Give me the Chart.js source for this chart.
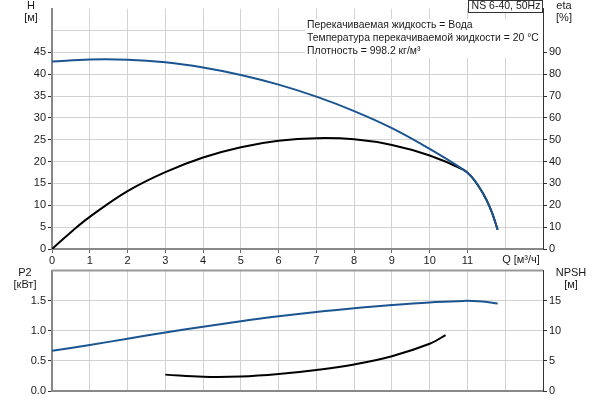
<!DOCTYPE html>
<html>
<head>
<meta charset="utf-8">
<script src="https://cdn.jsdelivr.net/npm/chart.js@4.4.1/dist/chart.umd.min.js"></script>
<style>
  body { margin: 0; background: #fff; width: 600px; height: 400px; position: relative; overflow: hidden; }
  canvas { position: absolute; left: 0; }
  #topChart { top: 0; }
  #botChart { top: 262px; }
</style>
</head>
<body>
<canvas id="topChart" width="600" height="270"></canvas>
<canvas id="botChart" width="600" height="138"></canvas>
<script>
// Q axis ticks (м³/ч)
const qTickLabels = ['0', '1', '2', '3', '4', '5', '6', '7', '8', '9', '10', '11'];

// Напор H [м]
const qH = [0, 1, 2, 3, 4, 5, 6, 7, 8, 9, 10, 10.9, 11.1, 11.3, 11.5, 11.65, 11.8];
const valH = [42.9, 43.35, 43.3, 42.7, 41.5, 39.8, 37.6, 34.85, 31.55, 27.65, 22.9, 18.1, 16.6, 14.3, 11.3, 8.3, 4.4];

// КПД eta [%]
const qEta = [0, 0.5, 1, 2, 3, 4, 5, 6, 7, 8, 9, 10, 10.9, 11.1, 11.3, 11.5, 11.65, 11.8];
const valEta = [0, 7.7, 14.7, 26.5, 35.2, 41.9, 46.6, 49.5, 50.7, 50.2, 47.6, 42.8, 36.2, 33.2, 28.6, 22.6, 16.6, 8.8];

// Мощность P2 [кВт]
const qP2 = [0, 1, 2, 3, 4, 5, 6, 7, 8, 9, 10, 10.9, 11.4, 11.8];
const valP2 = [0.668, 0.765, 0.868, 0.972, 1.068, 1.158, 1.240, 1.312, 1.374, 1.428, 1.472, 1.497, 1.485, 1.455];

// NPSH [м]
const qNpsh = [3, 4, 5, 6, 7, 8, 9, 10, 10.42];
const valNpsh = [2.72, 2.36, 2.40, 2.82, 3.50, 4.42, 5.78, 7.84, 9.28];

const hTicks = [0, 5, 10, 15, 20, 25, 30, 35, 40, 45];
const etaTicks = [0, 10, 20, 30, 40, 50, 60, 70, 80, 90];
const p2Ticks = ['0.0', '0.5', '1.0', '1.5'];
const npshTicks = [0, 5, 10, 15];

const BLUE = '#1b5591';
const GRID = '#d2d2d2';
const FONT = '"Liberation Sans", Arial, sans-serif';

Chart.defaults.font.family = FONT;
Chart.defaults.font.size = 11;
Chart.defaults.color = '#1a1a1a';

function pts(xs, ys) {
    return xs.map((x, i) => ({ x: x, y: ys[i] }));
}

function line(data, color, axis) {
    return {
        data: data,
        yAxisID: axis,
        borderColor: color,
        borderWidth: 2,
        pointRadius: 0,
        fill: false,
        tension: 0.4
    };
}

// тексты поверх графика
const textPlugin = {
    id: 'texts',
    beforeDatasetsDraw(chart, args, opts) {
        const ctx = chart.ctx;
        ctx.save();
        (opts.boxes || []).forEach(b => {
            ctx.fillStyle = '#fff';
            ctx.fillRect(b.x, b.y, b.w, b.h);
            if (b.stroke) {
                ctx.strokeStyle = '#333';
                ctx.lineWidth = 1;
                ctx.strokeRect(b.x + 0.5, b.y + 0.5, b.w - 1, b.h - 1);
            }
        });
        ctx.restore();
    },
    afterDraw(chart, args, opts) {
        const ctx = chart.ctx;
        ctx.save();
        ctx.fillStyle = '#1a1a1a';
        ctx.textBaseline = 'middle';
        (opts.items || []).forEach(t => {
            ctx.font = (t.size || 11) + 'px ' + FONT;
            ctx.textAlign = t.align || 'center';
            ctx.fillText(t.text, t.x, t.y);
        });
        if (opts.topBorder) {
            const a = chart.chartArea;
            ctx.strokeStyle = '#999';
            ctx.lineWidth = 2;
            ctx.beginPath();
            ctx.moveTo(a.left, a.top);
            ctx.lineTo(a.right, a.top);
            ctx.stroke();
        }
        ctx.restore();
    }
};

function qAxis(showLabels, height) {
    return {
        type: 'linear',
        min: 0,
        max: 13,
        ticks: {
            stepSize: 1,
            autoSkip: false,
            maxRotation: 0,
            padding: 1,
            display: showLabels,
            callback: v => v === 13 ? null : (v < qTickLabels.length ? qTickLabels[v] : '')
        },
        grid: {
            color: GRID,
            drawTicks: showLabels,
            tickLength: 4,
            tickColor: c => (c.tick && c.tick.value <= 11) ? '#666' : 'rgba(0,0,0,0)'
        },
        border: { color: '#888', width: 2 },
        afterFit: s => { s.height = height; }
    };
}

function valueAxis(pos, max, step, labels, width, withGrid) {
    return {
        type: 'linear',
        position: pos,
        min: 0,
        max: max,
        ticks: {
            stepSize: step,
            padding: 2,
            callback: (v, i) => i < labels.length ? String(labels[i]) : (v >= max - 1e-9 ? null : '')
        },
        grid: {
            color: GRID,
            drawOnChartArea: withGrid,
            tickLength: 4,
            tickColor: c => (c.index < labels.length) ? '#333' : 'rgba(0,0,0,0)'
        },
        border: pos === 'left' ? { color: '#888', width: 2 } : { color: '#333', width: 1 },
        afterFit: s => { s.width = width; }
    };
}

new Chart(document.getElementById('topChart'), {
    type: 'line',
    data: {
        datasets: [
            line(pts(qH, valH), BLUE, 'y'),
            line(pts(qEta, valEta), '#000', 'y1')
        ]
    },
    options: {
        responsive: false,
        animation: false,
        events: [],
        layout: { padding: 0 },
        plugins: {
            legend: { display: false },
            tooltip: { enabled: false },
            texts: {
                boxes: [
                    { x: 305, y: 19, w: 238, h: 39 },
                    { x: 468, y: 0, w: 75, h: 13, stroke: true }
                ],
                items: [
                    { text: 'NS 6-40, 50Hz', x: 506, y: 6.5, size: 10.5 },
                    { text: 'Перекачиваемая жидкость = Вода', x: 307, y: 25.5, align: 'left', size: 10.4 },
                    { text: 'Температура перекачиваемой жидкости = 20 °C', x: 307, y: 38.5, align: 'left', size: 10.4 },
                    { text: 'Плотность = 998.2 кг/м³', x: 307, y: 51.5, align: 'left', size: 10.4 },
                    { text: 'H', x: 31, y: 6 },
                    { text: '[м]', x: 31, y: 18 },
                    { text: 'eta', x: 564, y: 6 },
                    { text: '[%]', x: 564, y: 18 },
                    { text: 'Q [м³/ч]', x: 521, y: 259.5 }
                ]
            }
        },
        scales: {
            x: qAxis(true, 21),
            y: valueAxis('left', 55, 5, hTicks, 52, true),
            y1: valueAxis('right', 110, 10, etaTicks, 57, false)
        }
    },
    plugins: [textPlugin]
});

new Chart(document.getElementById('botChart'), {
    type: 'line',
    data: {
        datasets: [
            line(pts(qP2, valP2), BLUE, 'y'),
            line(pts(qNpsh, valNpsh), '#000', 'y1')
        ]
    },
    options: {
        responsive: false,
        animation: false,
        events: [],
        layout: { padding: { top: 6 } },
        plugins: {
            legend: { display: false },
            tooltip: { enabled: false },
            texts: {
                topBorder: true,
                items: [
                    { text: 'P2', x: 25, y: 11 },
                    { text: '[кВт]', x: 25, y: 23 },
                    { text: 'NPSH', x: 571, y: 11 },
                    { text: '[м]', x: 571, y: 23 }
                ]
            }
        },
        scales: {
            x: qAxis(false, 9),
            y: valueAxis('left', 2, 0.5, p2Ticks, 52, true),
            y1: valueAxis('right', 20, 5, npshTicks, 57, false)
        }
    },
    plugins: [textPlugin]
});
</script>
</body>
</html>
